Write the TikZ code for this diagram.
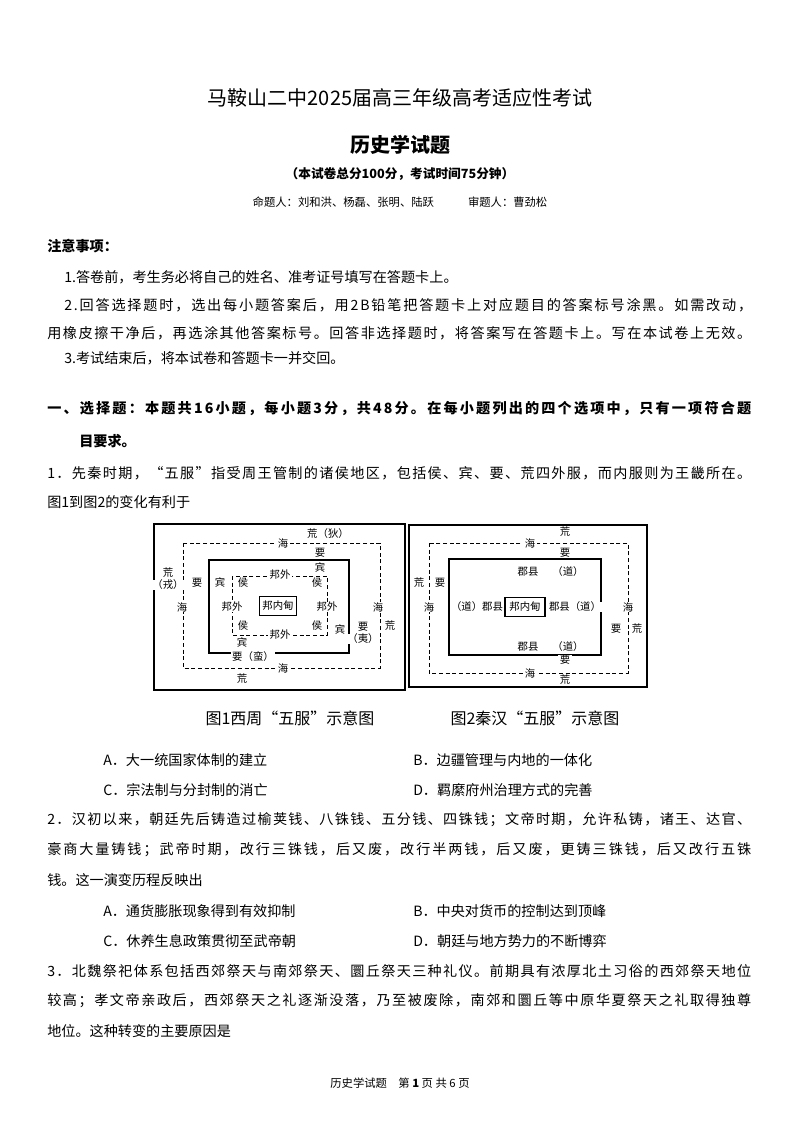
\documentclass[tikz,border=0pt]{standalone}
\usepackage{fontspec}
\setmainfont{Noto Sans CJK SC}
\def\spr#1{#1\sprr}
\def\sprr#1{\ifx#1\relax\else\hskip0pt plus1fil\relax#1\expandafter\sprr\fi}
\newcommand{\jl}[2]{\hbox to #1{\spr#2\relax}}
\begin{document}
\begin{tikzpicture}[x=0.75pt,y=-0.75pt,
  t/.style={anchor=west,inner sep=0,font=\fontsize{10.6}{12}\selectfont},
  tb/.style={t,font=\fontsize{10.6}{12}\selectfont\bfseries},
  f/.style={inner sep=0,font=\fontsize{7.8}{9}\selectfont},
  sb/.style={draw,line width=0.8pt},
  db/.style={draw,dashed,line width=0.6pt,dash pattern=on 3pt off 2pt}]
\useasboundingbox[fill=white] (0,0) rectangle (800,1132);
\node[inner sep=0,font=\fontsize{15}{17}\selectfont] (title) at (400,98) {马鞍山二中2025届高三年级高考适应性考试};
\node[inner sep=0,font=\fontsize{15}{17}\selectfont\bfseries] (sub) at (400,145) {历史学试题};
\node[inner sep=0,font=\fontsize{9.5}{11}\selectfont\bfseries] (sc) at (400,174) {（本试卷总分100分，考试时间75分钟）};
\node[inner sep=0,font=\fontsize{8.5}{10}\selectfont] (au) at (400,202) {命题人：刘和洪、杨磊、张明、陆跃\qquad\quad 审题人：曹劲松};
\node[tb] (n0) at (47,246) {注意事项：};
\node[t] (n1) at (64,277) {1.答卷前，考生务必将自己的姓名、准考证号填写在答题卡上。};
\node[t] (n2) at (64,305) {\jl{516pt}{2.回答选择题时，选出每小题答案后，用2B铅笔把答题卡上对应题目的答案标号涂黑。如需改动，}};
\node[t] (n2b) at (47,333) {\jl{528pt}{用橡皮擦干净后，再选涂其他答案标号。回答非选择题时，将答案写在答题卡上。写在本试卷上无效。}};
\node[t] (n3) at (64,358) {3.考试结束后，将本试卷和答题卡一并交回。};
\node[tb] (s1) at (47,409) {\jl{528pt}{一、选择题：本题共16小题，每小题3分，共48分。在每小题列出的四个选项中，只有一项符合题}};
\node[tb] (s1b) at (79,441) {目要求。};
\node[t] (q1) at (47,473) {\jl{528pt}{1．先秦时期，“五服”指受周王管制的诸侯地区，包括侯、宾、要、荒四外服，而内服则为王畿所在。}};
\node[t] (q1b) at (47,502) {图1到图2的变化有利于};
% figure 1
\draw[sb] (154,524) rectangle (405,690);
\draw[db] (183,543) rectangle (380,668);
\draw[sb] (209,560) rectangle (349,653);
\draw[db] (232,576) rectangle (327,635);
\node[draw,line width=0.8pt,minimum width=28pt,minimum height=14pt,f] (c1) at (278,606) {邦内甸};
\foreach \x/\y/\s in {328/534/荒（狄）,283/543/海,320/553/要,320/568/宾,280/575/邦外,168/573/荒,168/585/（戎）,197/583/要,220/583/宾,243/583/侯,317/583/侯,182/607/海,232/607/邦外,327/607/邦外,378/607/海,243/626/侯,317/626/侯,340/630/宾,363/627/要,363/639/（夷）,390/626/荒,280/635/邦外,242/643/宾,253/657/要（蛮）,283/668/海,242/679/荒}
  \node[f,fill=white,inner xsep=1pt] at (\x,\y) {\s};
% figure 2
\draw[sb] (409,525) rectangle (647,687);
\draw[db] (429,543) rectangle (628,673);
\draw[sb] (449,559) rectangle (601,655);
\node[draw,line width=0.8pt,minimum width=30pt,minimum height=14pt,f] (c2) at (525,607) {邦内甸};
\foreach \x/\y/\s in {565/532/荒,530/543/海,565/553/要,528/572/郡县,568/572/（道）,419/583/荒,440/583/要,429/607/海,477/607/（道）郡县,575/607/郡县（道）,628/607/海,616/629/要,637/629/荒,528/647/郡县,568/647/（道）,565/660/要,530/673/海,565/680/荒}
  \node[f,fill=white,inner xsep=1pt] at (\x,\y) {\s};
\node[inner sep=0,font=\fontsize{12}{14}\selectfont] (cap1) at (290,718) {图1西周“五服”示意图};
\node[inner sep=0,font=\fontsize{12}{14}\selectfont] (cap2) at (535,718) {图2秦汉“五服”示意图};
\node[t] (o1a) at (103,760) {A．大一统国家体制的建立};
\node[t] (o1b) at (413,760) {B．边疆管理与内地的一体化};
\node[t] (o1c) at (103,790) {C．宗法制与分封制的消亡};
\node[t] (o1d) at (413,790) {D．羁縻府州治理方式的完善};
\node[t] (q2) at (47,820) {\jl{528pt}{2．汉初以来，朝廷先后铸造过榆荚钱、八铢钱、五分钱、四铢钱；文帝时期，允许私铸，诸王、达官、}};
\node[t] (q2b) at (47,850) {\jl{528pt}{豪商大量铸钱；武帝时期，改行三铢钱，后又废，改行半两钱，后又废，更铸三铢钱，后又改行五铢}};
\node[t] (q2c) at (47,880) {钱。这一演变历程反映出};
\node[t] (o2a) at (103,911) {A．通货膨胀现象得到有效抑制};
\node[t] (o2b) at (413,911) {B．中央对货币的控制达到顶峰};
\node[t] (o2c) at (103,941) {C．休养生息政策贯彻至武帝朝};
\node[t] (o2d) at (413,941) {D．朝廷与地方势力的不断博弈};
\node[t] (q3) at (47,971) {\jl{528pt}{3．北魏祭祀体系包括西郊祭天与南郊祭天、圜丘祭天三种礼仪。前期具有浓厚北土习俗的西郊祭天地位}};
\node[t] (q3b) at (47,1001) {\jl{528pt}{较高；孝文帝亲政后，西郊祭天之礼逐渐没落，乃至被废除，南郊和圜丘等中原华夏祭天之礼取得独尊}};
\node[t] (q3c) at (47,1031) {地位。这种转变的主要原因是};
\node[inner sep=0,font=\fontsize{8.5}{10}\selectfont] (ft) at (400,1083) {历史学试题\quad 第 \textbf{1} 页 共 6 页};
\end{tikzpicture}
\end{document}
